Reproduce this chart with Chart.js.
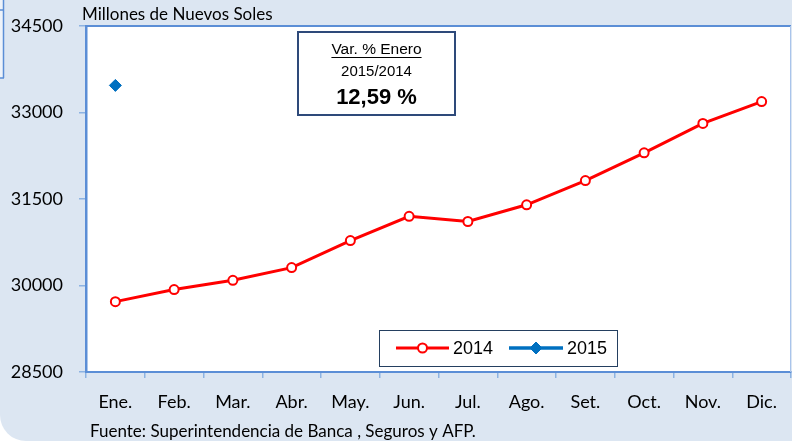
<!DOCTYPE html>
<html>
<head>
<meta charset="utf-8">
<script src="https://cdn.jsdelivr.net/npm/chart.js@4"></script>
<style>
  html, body { margin: 0; padding: 0; background: #ffffff; }
  #wrap { width: 792px; height: 441px; }
</style>
</head>
<body>
<div id="wrap"><canvas id="c" width="792" height="441"></canvas></div>
<script>
const months = ['Ene.', 'Feb.', 'Mar.', 'Abr.', 'May.', 'Jun.', 'Jul.', 'Ago.', 'Set.', 'Oct.', 'Nov.', 'Dic.'];
const serie2014 = [29720, 29930, 30090, 30310, 30780, 31200, 31110, 31400, 31820, 32300, 32810, 33190];
const serie2015 = [33470, null, null, null, null, null, null, null, null, null, null, null];
const seriesLabels = ['2014', '2015'];
const yMin = 28500, yMax = 34500, yStep = 1500;
const unitsTitle = 'Millones de Nuevos Soles';
const sourceText = 'Fuente: Superintendencia de Banca , Seguros y AFP.';
const noteLines = ['Var. % Enero', '2015/2014', '12,59 %'];

const BG = '#dce6f2';
const AXIS = '#5b8ed6';
const CAL = 'Lato, "Open Sans", sans-serif';
const ARI = '"Liberation Sans", Arial, sans-serif';

const decor = {
  id: 'decor',
  beforeDraw(chart) {
    const ctx = chart.ctx, a = chart.chartArea;
    ctx.save();
    ctx.fillStyle = '#ffffff';
    ctx.fillRect(0, 0, 792, 441);
    ctx.fillStyle = BG;
    ctx.beginPath();
    const r = 26;
    ctx.moveTo(0, 0);
    ctx.lineTo(792, 0);
    ctx.lineTo(792, 441);
    ctx.lineTo(r, 441);
    ctx.arcTo(0, 441, 0, 441 - r, r);
    ctx.closePath();
    ctx.fill();
    ctx.fillStyle = '#eef3fa';
    ctx.fillRect(0, 0, 3, 78);
    ctx.strokeStyle = AXIS;
    ctx.lineWidth = 1.5;
    ctx.beginPath();
    ctx.moveTo(3.5, 0); ctx.lineTo(3.5, 78);
    ctx.moveTo(0, 78); ctx.lineTo(4, 78);
    ctx.moveTo(0, 10); ctx.lineTo(4, 10);
    ctx.stroke();
    ctx.fillStyle = '#ffffff';
    ctx.fillRect(a.left, a.top, a.right - a.left, a.bottom - a.top);
    ctx.fillStyle = '#000000';
    ctx.font = '17px ' + CAL;
    ctx.textAlign = 'left';
    ctx.textBaseline = 'alphabetic';
    ctx.fillText(unitsTitle, 82, 20);
    ctx.fillText(sourceText, 90, 437);
    ctx.restore();
  },
  afterDatasetsDraw(chart) {
    const ctx = chart.ctx, a = chart.chartArea;
    ctx.save();
    ctx.strokeStyle = AXIS;
    ctx.lineWidth = 2;
    ctx.beginPath();
    ctx.moveTo(a.left, a.top); ctx.lineTo(a.right, a.top);
    ctx.stroke();
    ctx.strokeStyle = '#a9c4eb';
    ctx.lineWidth = 1;
    ctx.beginPath();
    ctx.moveTo(a.right - 0.5, a.top); ctx.lineTo(a.right - 0.5, a.bottom);
    ctx.stroke();

    const bx = 298, by = 32, bw = 157, bh = 83;
    ctx.fillStyle = '#ffffff';
    ctx.fillRect(bx, by, bw, bh);
    ctx.strokeStyle = '#2e4a7a';
    ctx.lineWidth = 2;
    ctx.strokeRect(bx, by, bw, bh);
    const cx = bx + bw / 2;
    ctx.fillStyle = '#000000';
    ctx.textAlign = 'center';
    ctx.textBaseline = 'middle';
    ctx.font = '15.5px ' + ARI;
    ctx.fillText(noteLines[0], cx, 50);
    const w0 = ctx.measureText(noteLines[0]).width;
    ctx.lineWidth = 1;
    ctx.strokeStyle = '#000000';
    ctx.beginPath();
    ctx.moveTo(cx - w0 / 2, 57.5); ctx.lineTo(cx + w0 / 2, 57.5);
    ctx.stroke();
    ctx.font = '15px ' + ARI;
    ctx.fillText(noteLines[1], cx, 72);
    ctx.font = 'bold 22px ' + ARI;
    ctx.fillText(noteLines[2], cx, 98);

    const lx = 379, ly = 330, lw = 238, lh = 36;
    ctx.fillStyle = '#ffffff';
    ctx.fillRect(lx, ly, lw, lh);
    ctx.strokeStyle = '#243f60';
    ctx.lineWidth = 1;
    ctx.strokeRect(lx + 0.5, ly + 0.5, lw, lh);
    const ly0 = 348;
    const items = [
      { x1: 396, x2: 449, tx: 453, ds: chart.data.datasets[0] },
      { x1: 509, x2: 563, tx: 567, ds: chart.data.datasets[1] }
    ];
    items.forEach(it => {
      const ds = it.ds;
      ctx.strokeStyle = ds.borderColor;
      ctx.lineWidth = ds.borderWidth;
      ctx.beginPath();
      ctx.moveTo(it.x1, ly0); ctx.lineTo(it.x2, ly0);
      ctx.stroke();
      const mx = (it.x1 + it.x2) / 2;
      ctx.fillStyle = ds.pointBackgroundColor;
      ctx.strokeStyle = ds.pointBorderColor;
      ctx.lineWidth = ds.pointBorderWidth;
      ctx.beginPath();
      if (ds.pointStyle === 'circle') {
        ctx.arc(mx, ly0, ds.pointRadius, 0, Math.PI * 2);
      } else {
        const r = ds.pointRadius;
        ctx.moveTo(mx, ly0 - r); ctx.lineTo(mx + r, ly0);
        ctx.lineTo(mx, ly0 + r); ctx.lineTo(mx - r, ly0);
        ctx.closePath();
      }
      ctx.fill();
      ctx.stroke();
      ctx.fillStyle = '#000000';
      ctx.textAlign = 'left';
      ctx.textBaseline = 'middle';
      ctx.font = '18px ' + ARI;
      ctx.fillText(ds.label, it.tx, ly0 + 1);
    });
    ctx.restore();
  }
};

new Chart(document.getElementById('c'), {
  type: 'line',
  data: {
    labels: months,
    datasets: [
      {
        label: seriesLabels[0],
        data: serie2014,
        borderColor: '#ff0000',
        backgroundColor: '#ff0000',
        borderWidth: 3,
        pointStyle: 'circle',
        pointRadius: 4.5,
        pointBorderWidth: 2,
        pointBackgroundColor: '#ffffff',
        pointBorderColor: '#ff0000',
        tension: 0,
        spanGaps: false
      },
      {
        label: seriesLabels[1],
        data: serie2015,
        borderColor: '#0070c0',
        backgroundColor: '#0070c0',
        borderWidth: 3.5,
        pointStyle: 'rectRot',
        pointRadius: 6,
        pointBorderWidth: 1,
        pointBackgroundColor: '#0070c0',
        pointBorderColor: '#0070c0',
        tension: 0
      }
    ]
  },
  options: {
    responsive: false,
    animation: false,
    devicePixelRatio: 1,
    layout: { autoPadding: false, padding: { top: 26, right: 1, left: 0, bottom: 0 } },
    plugins: {
      legend: { display: false },
      title: { display: false },
      tooltip: { enabled: false }
    },
    scales: {
      x: {
        type: 'category',
        offset: true,
        afterFit(s) { s.height = 69; s.paddingLeft = 0; s.paddingRight = 0; },
        grid: {
          offset: true,
          drawOnChartArea: false,
          drawTicks: true,
          tickLength: 6,
          color: '#8db3e2',
          lineWidth: 1.5
        },
        border: { display: true, color: AXIS, width: 2 },
        ticks: {
          color: '#000000',
          font: { family: CAL, size: 18 },
          padding: 13,
          maxRotation: 0,
          autoSkip: false
        }
      },
      y: {
        min: yMin,
        max: yMax,
        afterFit(s) { s.width = 86; s.paddingTop = 0; s.paddingBottom = 0; },
        afterBuildTicks(s) {
          const t = [];
          for (let v = yMin; v <= yMax; v += yStep) t.push({ value: v });
          s.ticks = t;
        },
        grid: {
          drawOnChartArea: false,
          drawTicks: true,
          tickLength: 7,
          color: '#8db3e2',
          lineWidth: 1.5
        },
        border: { display: true, color: AXIS, width: 2.5 },
        ticks: {
          color: '#000000',
          font: { family: CAL, size: 18 },
          padding: 16,
          stepSize: yStep,
          callback: v => String(v)
        }
      }
    }
  },
  plugins: [decor]
});
</script>
</body>
</html>
